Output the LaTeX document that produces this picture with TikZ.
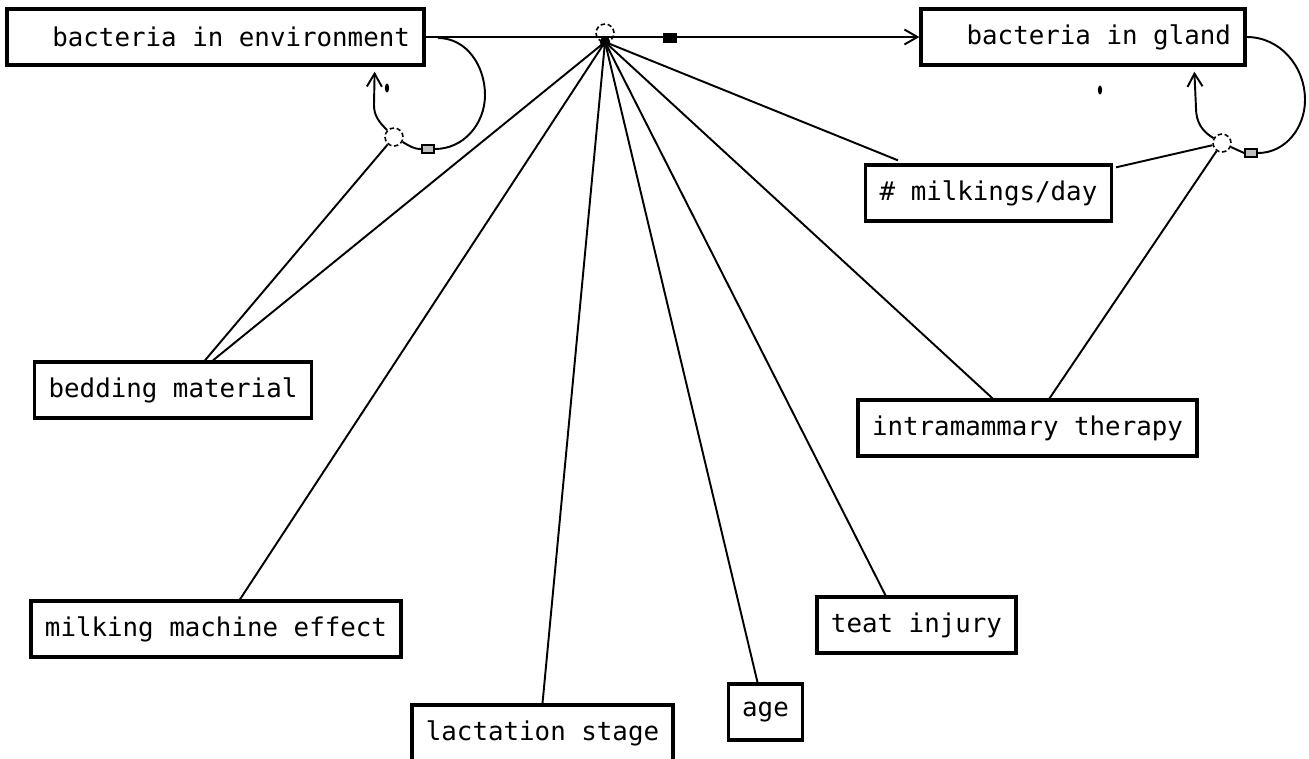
\documentclass[tikz,border=0pt]{standalone}
\usepackage{fontspec}
\setmonofont{DejaVu Sans Mono}
\usepackage{tikz}
\usetikzlibrary{arrows.meta, calc, positioning}

\begin{document}
\begin{tikzpicture}[x=0.02cm, y=-0.02cm,
  box/.style={draw, line width=1.9pt, minimum height=1.12cm, inner xsep=0.28cm,
    font=\ttfamily\fontsize{14.7}{17}\selectfont},
  link/.style={line width=1.1pt},
  flow/.style={line width=1.1pt},
  valve/.style={circle, draw, dashed, dash pattern=on 2.5pt off 1.5pt, line width=0.9pt, minimum size=0.36cm, inner sep=0pt},
  gate/.style={draw, line width=1pt, fill=gray!50, minimum width=0.24cm, minimum height=0.17cm, inner sep=0pt},
  tip/.style={-{Straight Barb[length=2.6mm,width=3mm,line width=1.1pt]}}]

\useasboundingbox (0,0) rectangle (1309,758);

% ストック
\node[box] (env) at (215.5,37) {\makebox[7.78cm][r]{bacteria in environment}};
\node[box] (gland) at (1083,37) {\makebox[5.92cm][r]{bacteria in gland}};

% 要因ノード
\node[box] (milk) at (988.5,193) {\# milkings/day};
\node[box] (bed) at (173,390) {bedding material};
\node[box] (ther) at (1027.5,428) {intramammary therapy};
\node[box] (mme) at (216,629) {milking machine effect};
\node[box] (teat) at (916.5,625) {teat injury};
\node[box] (lac) at (542.5,733) {lactation stage};
\node[box] (age) at (765.5,712) {age};

% 流れ(環境 -> 乳腺)
\draw[flow, tip] (env.east) -- (gland.west);
\node[valve] (vmain) at (605,33) {};
\coordinate (hub) at (605,42);
\fill (hub) circle (3pt);
\node[gate, fill=black] (gmain) at (670,38) {};

% 環境側のループ
\coordinate (e1) at (438,38);
\node[valve] (venv) at (394,137) {};
\node[gate] (genv) at (428,149) {};
\draw[flow] (e1) to[out=0,in=90] (485,95) to[out=-90,in=0] (genv.east);
\draw[flow] (genv.west) to[out=180,in=-30] (venv);
\draw[flow, tip] (venv) to[out=135,in=-90] (374,105) -- ($(env.south east)+(-51,5)$);
\fill (387,88) ellipse (1.2pt and 2.6pt);

% 乳腺側のループ
\node[valve] (vgl) at (1222,143) {};
\node[gate] (ggl) at (1251,153) {};
\draw[flow] (gland.east) to[out=0,in=90] (1305,100) to[out=-90,in=0] (ggl.east);
\draw[flow] (ggl.west) -- (vgl);
\draw[flow, tip] (vgl) to[out=150,in=-90] (1196,108) -- ($(gland.south west)+(275,5)$);
\fill (1100,90) ellipse (1.2pt and 2.6pt);

% 影響線
\draw[link] ($(bed.north)+(40,0)$) -- (hub);
\draw[link] ($(bed.north)+(32,0)$) -- (venv);
\draw[link] ($(mme.north)+(24,0)$) -- (hub);
\draw[link] (lac.north) -- (hub);
\draw[link] ($(age.north)+(-8,0)$) -- (hub);
\draw[link] ($(teat.north)+(-31,0)$) -- (hub);
\draw[link] ($(ther.north)+(-35,0)$) -- (hub);
\draw[link] ($(ther.north)+(22,0)$) -- (vgl);
\draw[link] ($(milk.north west)+(34,-3)$) -- (hub);
\draw[link] ($(milk.north east)+(3,4)$) -- (vgl);

\end{tikzpicture}
\end{document}
